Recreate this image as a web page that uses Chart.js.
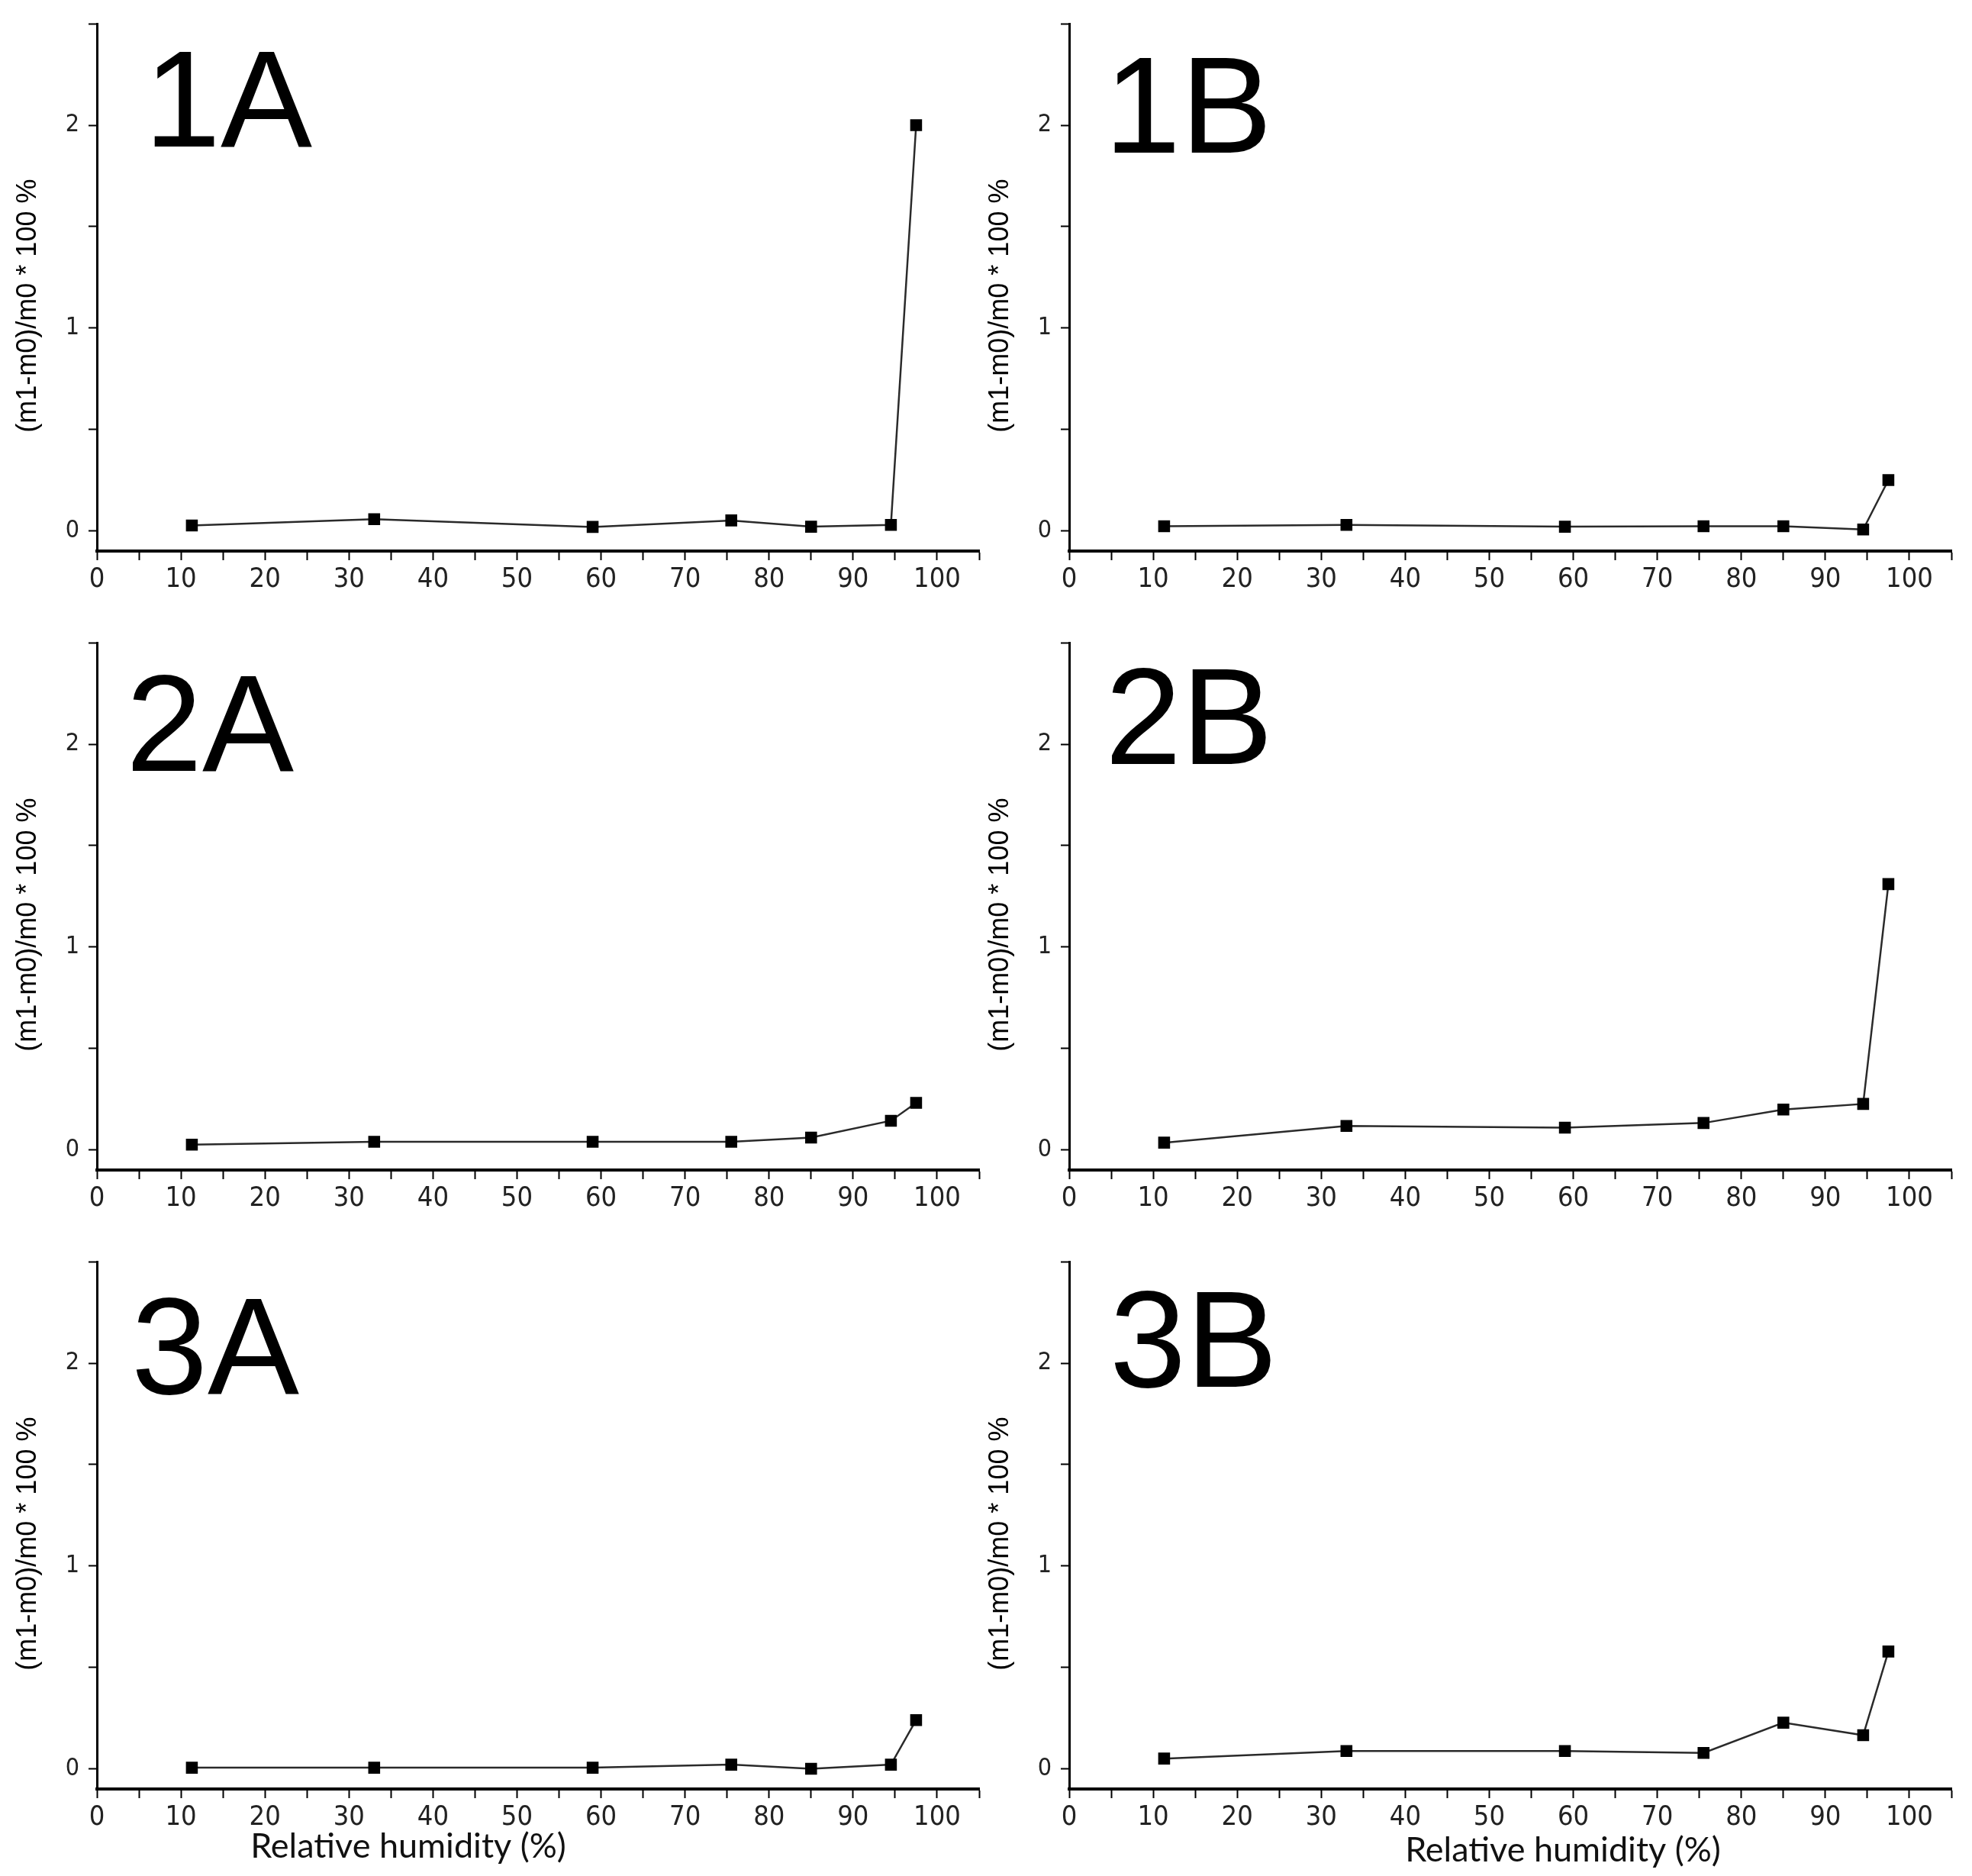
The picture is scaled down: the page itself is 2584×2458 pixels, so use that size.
<!DOCTYPE html>
<html>
<head>
<meta charset="utf-8">
<script src="https://cdn.jsdelivr.net/npm/chart.js@4.4.1/dist/chart.umd.min.js"></script>
<style>
  html, body { margin: 0; padding: 0; background: #fff; }
  #wrap { position: relative; width: 2584px; height: 2458px; background: #fff; }
  #wrap canvas { position: absolute; }
</style>
</head>
<body>
<div id="wrap"></div>
<script>
// relative humidity of the salt solutions (x values)
const humidity = [11.3, 33, 59, 75.5, 85, 94.5, 97.5];

// mass change (m1-m0)/m0 * 100 % for each sample
const sample1A = [0.026, 0.057, 0.019, 0.051, 0.02, 0.029, 2.0];
const sample1B = [0.022, 0.029, 0.02, 0.022, 0.022, 0.006, 0.25];
const sample2A = [0.025, 0.039, 0.039, 0.039, 0.06, 0.143, 0.231];
const sample2B = [0.035, 0.117, 0.109, 0.132, 0.198, 0.226, 1.31];
const sample3A = [0.005, 0.005, 0.005, 0.02, 0.0, 0.02, 0.24];
const sample3B = [0.05, 0.087, 0.087, 0.078, 0.227, 0.165, 0.578];

const xTickValues = [0, 5, 10, 15, 20, 25, 30, 35, 40, 45, 50, 55, 60, 65, 70, 75, 80, 85, 90, 95, 100, 105];
const yTickValues = [0, 0.5, 1, 1.5, 2, 2.5];
const yAxisTitle = "(m1-m0)/m0 * 100 %";
const xAxisTitle = "Relative humidity (%)";

const narrowFont = "'Liberation Sans Narrow', 'DejaVu Sans Condensed', 'Liberation Sans', sans-serif";
const arialFont = "'Liberation Sans', Arial, sans-serif";

const wrap = document.getElementById("wrap");

// draws the big panel label and the axis titles
const panelText = {
    id: 'panelText',
    afterDraw(chart, args, opts) {
        const { ctx, chartArea } = chart;
        ctx.save();
        ctx.fillStyle = '#000';
        ctx.textAlign = 'left';
        ctx.textBaseline = 'alphabetic';
        ctx.font = '180px ' + arialFont;
        ctx.fillText(opts.label, chartArea.left + opts.labelDx, chartArea.top + opts.labelDy);

        ctx.save();
        ctx.translate(opts.yTitleX, (chartArea.top + chartArea.bottom) / 2 + 24);
        ctx.rotate(-Math.PI / 2);
        ctx.textAlign = 'center';
        ctx.textBaseline = 'middle';
        ctx.font = '36px ' + arialFont;
        ctx.fillStyle = '#000';
        ctx.fillText(yAxisTitle, 0, 0);
        ctx.restore();

        if (opts.xTitleX) {
            ctx.textAlign = 'center';
            ctx.textBaseline = 'middle';
            ctx.font = '45px Lato, "Open Sans", sans-serif';
            ctx.fillStyle = '#111';
            ctx.fillText(xAxisTitle, opts.xTitleX, opts.xTitleY);
        }
        ctx.restore();
    }
};

const panels = [
    { label: "1A", values: sample1A, left: 0,    top: 0,    height: 811, labelDx: 62, labelDy: 161 },
    { label: "1B", values: sample1B, left: 1274, top: 0,    height: 811, labelDx: 46, labelDy: 169 },
    { label: "2A", values: sample2A, left: 0,    top: 811,  height: 811, labelDx: 38, labelDy: 168 },
    { label: "2B", values: sample2B, left: 1274, top: 811,  height: 811, labelDx: 47, labelDy: 159 },
    { label: "3A", values: sample3A, left: 0,    top: 1622, height: 836, labelDx: 45, labelDy: 173 },
    { label: "3B", values: sample3B, left: 1274, top: 1622, height: 836, labelDx: 53, labelDy: 164 }
];
panels[4].xTitleX = 535; panels[4].xTitleY = 797;
panels[5].xTitleX = 774; panels[5].xTitleY = 802;

function makeChart(p) {
    const canvas = document.createElement("canvas");
    canvas.width = 1300;
    canvas.height = p.height;
    canvas.style.left = p.left + 'px';
    canvas.style.top = p.top + 'px';
    wrap.appendChild(canvas);

    return new Chart(canvas.getContext('2d'), {
        type: 'line',
        data: {
            datasets: [{
                data: humidity.map((x, i) => ({ x: x, y: p.values[i] })),
                borderColor: '#2a2a2a',
                borderWidth: 2.5,
                tension: 0,
                pointStyle: 'rect',
                pointRadius: 11,
                pointBackgroundColor: '#000',
                pointBorderColor: '#000',
                pointBorderWidth: 0
            }]
        },
        options: {
            responsive: false,
            animation: false,
            devicePixelRatio: 1,
            layout: { padding: { left: 0, right: 17, top: 26, bottom: p.height - 722 - 89 } },
            plugins: {
                legend: { display: false },
                tooltip: { enabled: false },
                panelText: {
                    label: p.label,
                    labelDx: p.labelDx,
                    labelDy: p.labelDy,
                    yTitleX: 37,
                    xTitleX: p.xTitleX,
                    xTitleY: p.xTitleY
                }
            },
            scales: {
                x: {
                    type: 'linear',
                    min: 0,
                    max: 105,
                    afterBuildTicks: s => { s.ticks = xTickValues.map(v => ({ value: v })); },
                    afterFit: s => { s.height = 89; },
                    grid: { drawOnChartArea: false, drawTicks: true, tickLength: 12, tickWidth: 2, tickColor: '#000' },
                    border: { display: true, color: '#000', width: 4 },
                    ticks: {
                        autoSkip: false,
                        maxRotation: 0,
                        padding: 4,
                        color: '#222',
                        font: { family: narrowFont, size: 36 },
                        callback: v => (v % 10 === 0 ? v : '')
                    }
                },
                y: {
                    type: 'linear',
                    min: -0.1,
                    max: 2.5,
                    afterBuildTicks: s => { s.ticks = yTickValues.map(v => ({ value: v })); },
                    afterFit: s => { s.width = 127; },
                    grid: { drawOnChartArea: false, drawTicks: true, tickLength: 11, tickWidth: 2, tickColor: '#000' },
                    border: { display: true, color: '#000', width: 3 },
                    ticks: {
                        autoSkip: false,
                        padding: 12,
                        color: '#222',
                        font: { family: narrowFont, size: 32 },
                        callback: v => (Number.isInteger(v) ? v : '')
                    }
                }
            }
        },
        plugins: [panelText]
    });
}

panels.forEach(makeChart);
</script>
</body>
</html>
